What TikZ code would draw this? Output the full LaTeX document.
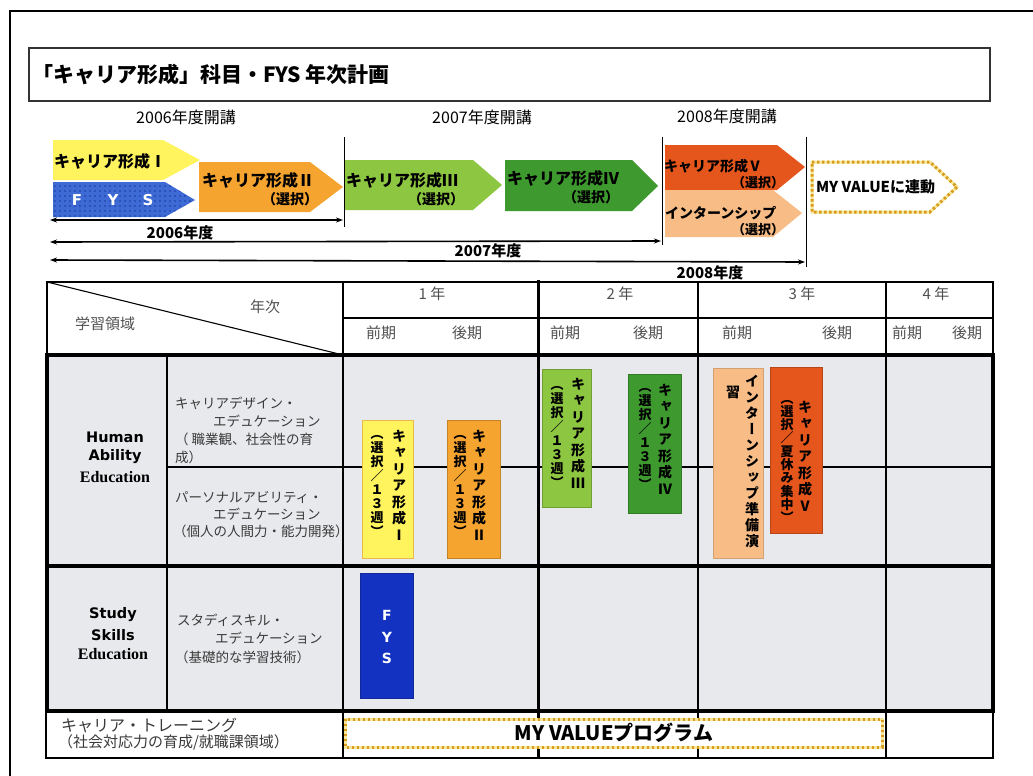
\documentclass[tikz,border=0pt]{standalone}
\usepackage{fontspec}
\newfontfamily\jp{Noto Sans CJK JP}
\newfontfamily\jpv[RawFeature=+vert]{Noto Sans CJK JP}
\newfontfamily\sansb{DejaVu Sans}
\newfontfamily\serifb{Liberation Serif}
\usetikzlibrary{arrows.meta,patterns.meta}
\definecolor{cYel}{HTML}{FFF45E}
\definecolor{cYelB}{HTML}{E9B949}
\definecolor{cOrg}{HTML}{F5A430}
\definecolor{cLgr}{HTML}{8DC641}
\definecolor{cDgr}{HTML}{3E9A2F}
\definecolor{cRed}{HTML}{E5561D}
\definecolor{cPch}{HTML}{F8BC86}
\definecolor{cFysT}{HTML}{3E6AD6}
\definecolor{cFysD}{HTML}{1C3C9E}
\definecolor{cFysV}{HTML}{1432C2}
\definecolor{cBody}{HTML}{E8E9EC}
\definecolor{cDot1}{HTML}{F6E69A}
\definecolor{cDot2}{HTML}{D99C1C}
\definecolor{cHead}{HTML}{505050}
\definecolor{cLab}{HTML}{3A3A3A}
\newcommand\fs[1]{\fontsize{#1}{#1}\selectfont}
\makeatletter
\def\vt@a#1{\ifx#1\relax\else\hbox to 1em{\hss#1\hss}\expandafter\vt@a\fi}
\newcommand\vcol[2]{\vbox{\baselineskip=#1\lineskiplimit=-20pt\lineskip=0pt\vt@a#2\relax}}
\makeatother
\begin{document}
\begin{tikzpicture}[x=1pt,y=-1pt,
  every node/.style={inner sep=0pt,outer sep=0pt},
  tl/.style={line width=1.6pt,{Stealth[length=7pt,width=5pt]}-{Stealth[length=7pt,width=5pt]}},
  thin1/.style={line width=1.1pt},
  thick1/.style={line width=4pt},
  dotbox/.style={draw=cDot1,line width=3pt,postaction={draw=cDot2,line width=3pt,dash pattern=on 2.4pt off 2.6pt}},
  arrtxt/.style={font=\jp\bfseries\fs{16}},
  seltxt/.style={font=\jp\bfseries\fs{14}},
  headtxt/.style={font=\jp\fs{15},text=cHead},
  labtxt/.style={font=\jp\fs{13.5},text=cLab,anchor=west},
  vname/.style={anchor=north,font=\jpv\bfseries\fs{14}},
  vpar/.style={anchor=north,font=\jpv\bfseries\fs{13}},
  vbar/.style={line width=0.6pt}]
\useasboundingbox (0,0) rectangle (1033,776);
\fill[white] (0,0) rectangle (1033,776);
% outer frame
\coordinate (fTR) at (1033,11); \coordinate (fTL) at (10,11); \coordinate (fBL) at (10,776);
\draw[line width=2pt] (fTR) -- (fTL) -- (fBL);
% title
\draw[line width=1.2pt,draw=black!80] (29,48) rectangle (990,101);
\node[anchor=west] (title) at (32,75) {\jp\bfseries\fs{21}「キャリア形成」科目・FYS 年次計画};
% opening years
\node (h06) at (186,117) {\jp\fs{16}2006年度開講};
\node (h07) at (482,117) {\jp\fs{16}2007年度開講};
\node (h08) at (727,116) {\jp\fs{16}2008年度開講};
% course arrows
\fill[cYel] (53,140) -- (163,140) -- (200,160) -- (163,180) -- (53,180) -- cycle;
\fill[cFysT] (53,182) -- (165,182) -- (195,200) -- (165,217) -- (53,217) -- cycle;
\fill[pattern={Dots[distance=5pt,radius=0.9pt]},pattern color=cFysD] (53,182) -- (165,182) -- (195,200) -- (165,217) -- (53,217) -- cycle;
\fill[cOrg] (199,162) -- (310,162) -- (343,187) -- (310,212) -- (199,212) -- cycle;
\fill[cLgr] (344,160) -- (473,160) -- (502,185) -- (473,210) -- (344,210) -- cycle;
\fill[cDgr] (505,160) -- (632,160) -- (658,186) -- (632,211) -- (505,211) -- cycle;
\fill[cRed] (665,145) -- (777,145) -- (805,167) -- (777,190) -- (665,190) -- cycle;
\fill[cPch] (665,190) -- (773,190) -- (802,213) -- (773,237) -- (665,237) -- cycle;
\path[dotbox] (812,162) -- (930,162) -- (957,187) -- (930,212) -- (812,212) -- cycle;
\node[arrtxt,anchor=west] (t1) at (54,161) {キャリア形成Ⅰ};
\node[font=\sansb\bfseries\fs{15},text=white] (tF) at (77,200) {F};
\node[font=\sansb\bfseries\fs{15},text=white] (tY) at (113,200) {Y};
\node[font=\sansb\bfseries\fs{15},text=white] (tS) at (148,200) {S};
\node[arrtxt,anchor=west] (t2) at (202,180) {キャリア形成Ⅱ};
\node[seltxt,anchor=east] (t2s) at (318,199) {（選択）};
\node[arrtxt,anchor=west] (t3) at (346,180) {キャリア形成Ⅲ};
\node[seltxt,anchor=east] (t3s) at (464,199) {（選択）};
\node[arrtxt,anchor=west] (t4) at (507,178) {キャリア形成Ⅳ};
\node[seltxt,anchor=east] (t4s) at (619,197) {（選択）};
\node[font=\jp\bfseries\fs{14},anchor=west] (t5) at (664,166) {キャリア形成Ⅴ};
\node[font=\jp\bfseries\fs{13},anchor=east] (t5s) at (784,183) {（選択）};
\node[font=\jp\bfseries\fs{14},anchor=west] (ti) at (665,213) {インターンシップ};
\node[font=\jp\bfseries\fs{13},anchor=east] (tis) at (784,230) {（選択）};
\node[font=\jp\bfseries\fs{15},anchor=west] (tmv) at (816,187) {MY VALUEに連動};
% timeline
\coordinate (v1T) at (344,137); \coordinate (v1B) at (344,227);
\coordinate (v2T) at (662,137); \coordinate (v2B) at (662,245);
\coordinate (v3T) at (806,137); \coordinate (v3B) at (806,267);
\draw[line width=1pt] (v1T) -- (v1B);
\draw[line width=1pt] (v2T) -- (v2B);
\draw[line width=1pt] (v3T) -- (v3B);
\coordinate (a1L) at (50,220); \coordinate (a1R) at (343,220);
\coordinate (a2L) at (50,242); \coordinate (a2R) at (661,241);
\coordinate (a3L) at (50,260); \coordinate (a3R) at (805,262);
\draw[tl] (a1L) -- (a1R);
\draw[tl] (a2L) -- (a2R);
\draw[tl] (a3L) -- (a3R);
\node[font=\jp\bfseries\fs{15}] (y06) at (180,233) {2006年度};
\node[font=\jp\bfseries\fs{15}] (y07) at (488,251) {2007年度};
\node[font=\jp\bfseries\fs{15}] (y08) at (710,273) {2008年度};
% table
\fill[cBody] (47,355) rectangle (993,711);
\draw[thin1] (47,282) rectangle (993,355);
\draw[thin1] (47,282) -- (343,355);
\draw[thin1] (343,318) -- (993,318);
\draw[thin1] (343,282) -- (343,758);
\draw[thin1] (698,282) -- (698,758);
\draw[thin1] (886,282) -- (886,758);
\draw[thin1] (167,355) -- (167,711);
\draw[thin1] (167,467) -- (993,467);
\draw[line width=3pt] (538,280) -- (538,759);
\draw[thin1] (46,711) -- (46,758) -- (993,758) -- (993,711);
\draw[thick1] (47,355) rectangle (993,711);
\draw[thick1] (47,566) -- (993,566);
% header texts
\node[headtxt] (yr1) at (432,294) {1 年};
\node[headtxt] (yr2) at (620,294) {2 年};
\node[headtxt] (yr3) at (802,294) {3 年};
\node[headtxt] (yr4) at (936,294) {4 年};
\node[headtxt] (p1a) at (381,333) {前期};
\node[headtxt] (p1b) at (467,333) {後期};
\node[headtxt] (p2a) at (565,333) {前期};
\node[headtxt] (p2b) at (648,333) {後期};
\node[headtxt] (p3a) at (737,333) {前期};
\node[headtxt] (p3b) at (837,333) {後期};
\node[headtxt] (p4a) at (907,333) {前期};
\node[headtxt] (p4b) at (967,333) {後期};
\node[headtxt] (nenji) at (265,307) {年次};
\node[headtxt] (ryoiki) at (105,324) {学習領域};
% row labels
\node[font=\sansb\bfseries\fs{14.5}] (hum1) at (115,437) {Human};
\node[font=\sansb\bfseries\fs{14.5}] (hum2) at (115,457) {Ability};
\node[font=\serifb\bfseries\fs{16}] (hum3) at (115,477) {Education};
\node[labtxt] (cd1) at (175,403) {キャリアデザイン・};
\node[labtxt] (cd2) at (213,421) {エデュケーション};
\node[labtxt] (cd3) at (175,439) {（ 職業観、社会性の育};
\node[labtxt] (cd4) at (175,457) {成）};
\node[labtxt] (pa1) at (175,497) {パーソナルアビリティ・};
\node[labtxt] (pa2) at (213,514) {エデュケーション};
\node[labtxt] (pa3) at (173,531) {（個人の人間力・能力開発）};
\node[font=\sansb\bfseries\fs{14.5}] (st1) at (113,615) {Study};
\node[font=\sansb\bfseries\fs{14.5}] (st2) at (113,635) {Skills};
\node[font=\serifb\bfseries\fs{16}] (st3) at (113,654) {Education};
\node[labtxt] (ss1) at (177,620) {スタディスキル・};
\node[labtxt] (ss2) at (215,638) {エデュケーション};
\node[labtxt] (ss3) at (175,657) {（基礎的な学習技術）};
\node[font=\jp\fs{16},text=cLab,anchor=west] (ct1) at (61,725) {キャリア・トレーニング};
\node[font=\jp\fs{15},text=cLab,anchor=west] (ct2) at (58,742) {（社会対応力の育成/就職課領域）};
% vertical boxes
\filldraw[fill=cYel,draw=cYelB,vbar] (362,420) rectangle (413,558);
\node[vname] (vb1n) at (399,430) {\vcol{16.5pt}{キャリア形成Ⅰ}};
\node[vpar] (vb1p) at (377,435) {\vcol{14pt}{（選択／１３週）}};
\filldraw[fill=cOrg,draw=cOrg!80!black,vbar] (447,420) rectangle (500,558);
\node[vname] (vb2n) at (479,430) {\vcol{16.5pt}{キャリア形成Ⅱ}};
\node[vpar] (vb2p) at (460,435) {\vcol{14pt}{（選択／１３週）}};
\filldraw[fill=cLgr,draw=cLgr!80!black,vbar] (542,369) rectangle (591,507);
\node[vname] (vb3n) at (578,378) {\vcol{16.5pt}{キャリア形成Ⅲ}};
\node[vpar] (vb3p) at (557,386) {\vcol{14pt}{（選択／１３週）}};
\filldraw[fill=cDgr,draw=cDgr!80!black,vbar] (628,374) rectangle (681,513);
\node[vname] (vb4n) at (665,384) {\vcol{16.5pt}{キャリア形成Ⅳ}};
\node[vpar] (vb4p) at (645,388) {\vcol{14pt}{（選択／１３週）}};
\filldraw[fill=cPch,draw=cPch!85!black,vbar] (713,368) rectangle (763,558);
\node[vname] (vbin) at (752,375) {\vcol{16pt}{インターンシップ準備演}};
\node[vname] (vbip) at (733,386) {\vcol{16pt}{習}};
\filldraw[fill=cRed,draw=cRed!80!black,vbar] (770,367) rectangle (822,533);
\node[vname] (vb5n) at (805,401) {\vcol{16.5pt}{キャリア形成Ⅴ}};
\node[vpar] (vb5p) at (787,400) {\vcol{13.3pt}{（選択／夏休み集中）}};
\filldraw[fill=cFysV,draw=cFysV!80!black,vbar] (360,573) rectangle (413,698);
\node[font=\sansb\bfseries\fs{14},text=white] (fv1) at (387,615) {F};
\node[font=\sansb\bfseries\fs{14},text=white] (fv2) at (387,637) {Y};
\node[font=\sansb\bfseries\fs{14},text=white] (fv3) at (387,658) {S};
% MY VALUE program
\path[fill=white,dotbox] (345,719) rectangle (882,747);
\node[font=\jp\bfseries\fs{20}] (mvp) at (614,733) {MY VALUEプログラム};
\end{tikzpicture}
\end{document}
